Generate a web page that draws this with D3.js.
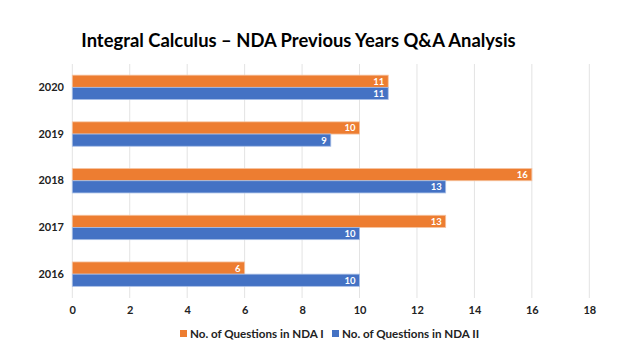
<!DOCTYPE html>
<html><head><meta charset="utf-8">
<script src="https://cdn.jsdelivr.net/npm/d3@7/dist/d3.min.js"></script>
<style>body{margin:0;background:#fff}svg{display:block}</style>
</head><body>
<svg id="c" width="640" height="360"></svg>
<script>
const title = "Integral Calculus – NDA Previous Years Q&A Analysis";
const years = ["2020", "2019", "2018", "2017", "2016"];
const ndaI = [11, 10, 16, 13, 6];
const ndaII = [11, 9, 13, 10, 10];
const seriesNames = ["No. of Questions in NDA I", "No. of Questions in NDA II"];
const xTicks = [0, 2, 4, 6, 8, 10, 12, 14, 16, 18];
const colors = ["#ED7D31", "#4472C4"];

const svg = d3.select("#c");
const font = "Lato, 'Open Sans', sans-serif";

svg.append("text").attr("x", 298.5).attr("y", 47).attr("text-anchor", "middle")
  .attr("font-family", font).attr("font-weight", "bold").attr("font-size", 18.4)
  .attr("fill", "#000").text(title);

const x = d3.scaleLinear().domain([0, 18]).range([72.3, 589.3]);
const y = d3.scaleBand().domain(years).range([64, 297.5]).padding(0);
const barH = 12.2;

// gridlines
svg.append("g").selectAll("line").data(xTicks).join("line")
  .attr("x1", d => x(d)).attr("x2", d => x(d)).attr("y1", 64).attr("y2", 298)
  .attr("stroke", "#E3E3E3").attr("stroke-width", 1);

// x axis labels
const xAxis = d3.axisBottom(x).tickValues(xTicks).tickSize(0).tickPadding(0);
const gx = svg.append("g").attr("transform", "translate(0,306)").call(xAxis);
gx.select(".domain").remove();
gx.selectAll("text").attr("font-family", font).attr("font-weight", "bold")
  .attr("font-size", 11).attr("fill", "#222");

// y axis labels
const yAxis = d3.axisLeft(y).tickSize(0).tickPadding(0);
const gy = svg.append("g").attr("transform", "translate(64,0)").call(yAxis);
gy.select(".domain").remove();
gy.selectAll("text").attr("font-family", font).attr("font-weight", "bold")
  .attr("font-size", 11).attr("fill", "#222");

const rows = years.map((yr, i) => ({yr, vals: [ndaI[i], ndaII[i]]}));
rows.forEach(r => {
  r.vals.forEach((v, s) => {
    const cy = y(r.yr) + y.bandwidth() / 2;
    const top = cy - barH + s * barH;
    svg.append("rect").attr("x", x(0)).attr("y", top)
      .attr("width", x(v) - x(0)).attr("height", barH)
      .attr("fill", colors[s]).attr("stroke", s === 0 ? "#F6C3A0" : "#A9BFE6").attr("stroke-width", 0.8);
    svg.append("text").attr("x", x(v) - 4).attr("y", top + barH / 2 + 3.5)
      .attr("text-anchor", "end").attr("font-family", font).attr("font-weight", "bold")
      .attr("font-size", 9.5).attr("fill", "#fff").text(v);
  });
});

// legend
const legX = [180, 332];
seriesNames.forEach((n, s) => {
  svg.append("rect").attr("x", legX[s]).attr("y", 330).attr("width", 7).attr("height", 7).attr("fill", colors[s]);
  svg.append("text").attr("x", legX[s] + 10).attr("y", 338).attr("font-family", font)
    .attr("font-weight", "bold").attr("font-size", 11.6).attr("fill", "#222").text(n);
});
</script>
</body></html>
